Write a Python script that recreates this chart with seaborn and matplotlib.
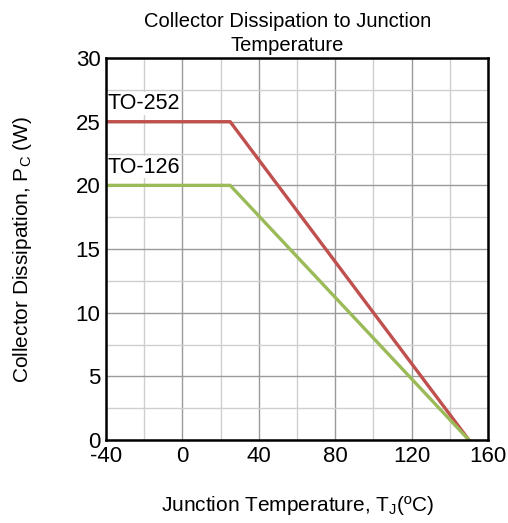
import numpy as np
import pandas as pd
import matplotlib
matplotlib.use("Agg")
import matplotlib.pyplot as plt
import seaborn as sns

# derating curves (junction temp in degC, dissipation in W)
temp_252 = [-40, 25, 150]
pc_252 = [25, 25, 0]
temp_126 = [-40, 25, 150]
pc_126 = [20, 20, 0]
series_names = ["TO-252", "TO-126"]
x_ticks = [-40, 0, 40, 80, 120, 160]
y_ticks = [0, 5, 10, 15, 20, 25, 30]

df = pd.concat([
    pd.DataFrame({"Tj": temp_252, "Pc": pc_252, "pkg": series_names[0]}),
    pd.DataFrame({"Tj": temp_126, "Pc": pc_126, "pkg": series_names[1]}),
])

sns.set_style("white")
plt.rcParams["font.family"] = ["Liberation Sans", "DejaVu Sans"]
plt.rcParams["mathtext.fontset"] = "custom"
plt.rcParams["mathtext.rm"] = "Liberation Sans"
plt.rcParams["axes.unicode_minus"] = False
plt.rcParams["text.color"] = "black"
plt.rcParams["axes.labelcolor"] = "black"
plt.rcParams["xtick.color"] = "black"
plt.rcParams["ytick.color"] = "black"

fig = plt.figure(figsize=(5.08, 5.23), dpi=100)
ax = fig.add_axes([0.2087, 0.1587, 0.752, 0.7303])

sns.lineplot(data=df, x="Tj", y="Pc", hue="pkg", sort=False,
             palette={"TO-252": "#C0504D", "TO-126": "#9BBB59"},
             linewidth=2.4, legend=False, ax=ax, zorder=3)

ax.set_xlim(-40, 160)
ax.set_ylim(0, 30)
ax.set_xticks(x_ticks)
ax.set_yticks(y_ticks)
ax.set_xticks(np.arange(-40, 161, 20), minor=True)
ax.set_yticks(np.arange(0, 30.1, 2.5), minor=True)
ax.grid(which="minor", color="#cfcfcf", linewidth=1.0, zorder=0)
ax.grid(which="major", color="#9a9a9a", linewidth=1.0, zorder=1)
ax.tick_params(which="both", length=0, labelsize=16, pad=4)
for s in ax.spines.values():
    s.set_color("black")
    s.set_linewidth(1.8)
    s.set_zorder(5)

ax.text(-39, 25.6, "TO-252", fontsize=15.5, ha="left", va="bottom",
        bbox=dict(facecolor="white", edgecolor="none", pad=0.5), zorder=4)
ax.text(-39, 20.6, "TO-126", fontsize=15.5, ha="left", va="bottom",
        bbox=dict(facecolor="white", edgecolor="none", pad=0.5), zorder=4)

ax.set_title("Collector Dissipation to Junction\nTemperature", fontsize=14.5,
             linespacing=1.35, pad=5, x=0.475)
ax.set_xlabel(r"Junction Temperature, T$_\mathregular{J}$(ºC)", fontsize=15, labelpad=20)
ax.set_ylabel(r"Collector Dissipation, P$_\mathregular{C}$ (W)", fontsize=15, labelpad=30)

fig.savefig("out.png", dpi=100)
